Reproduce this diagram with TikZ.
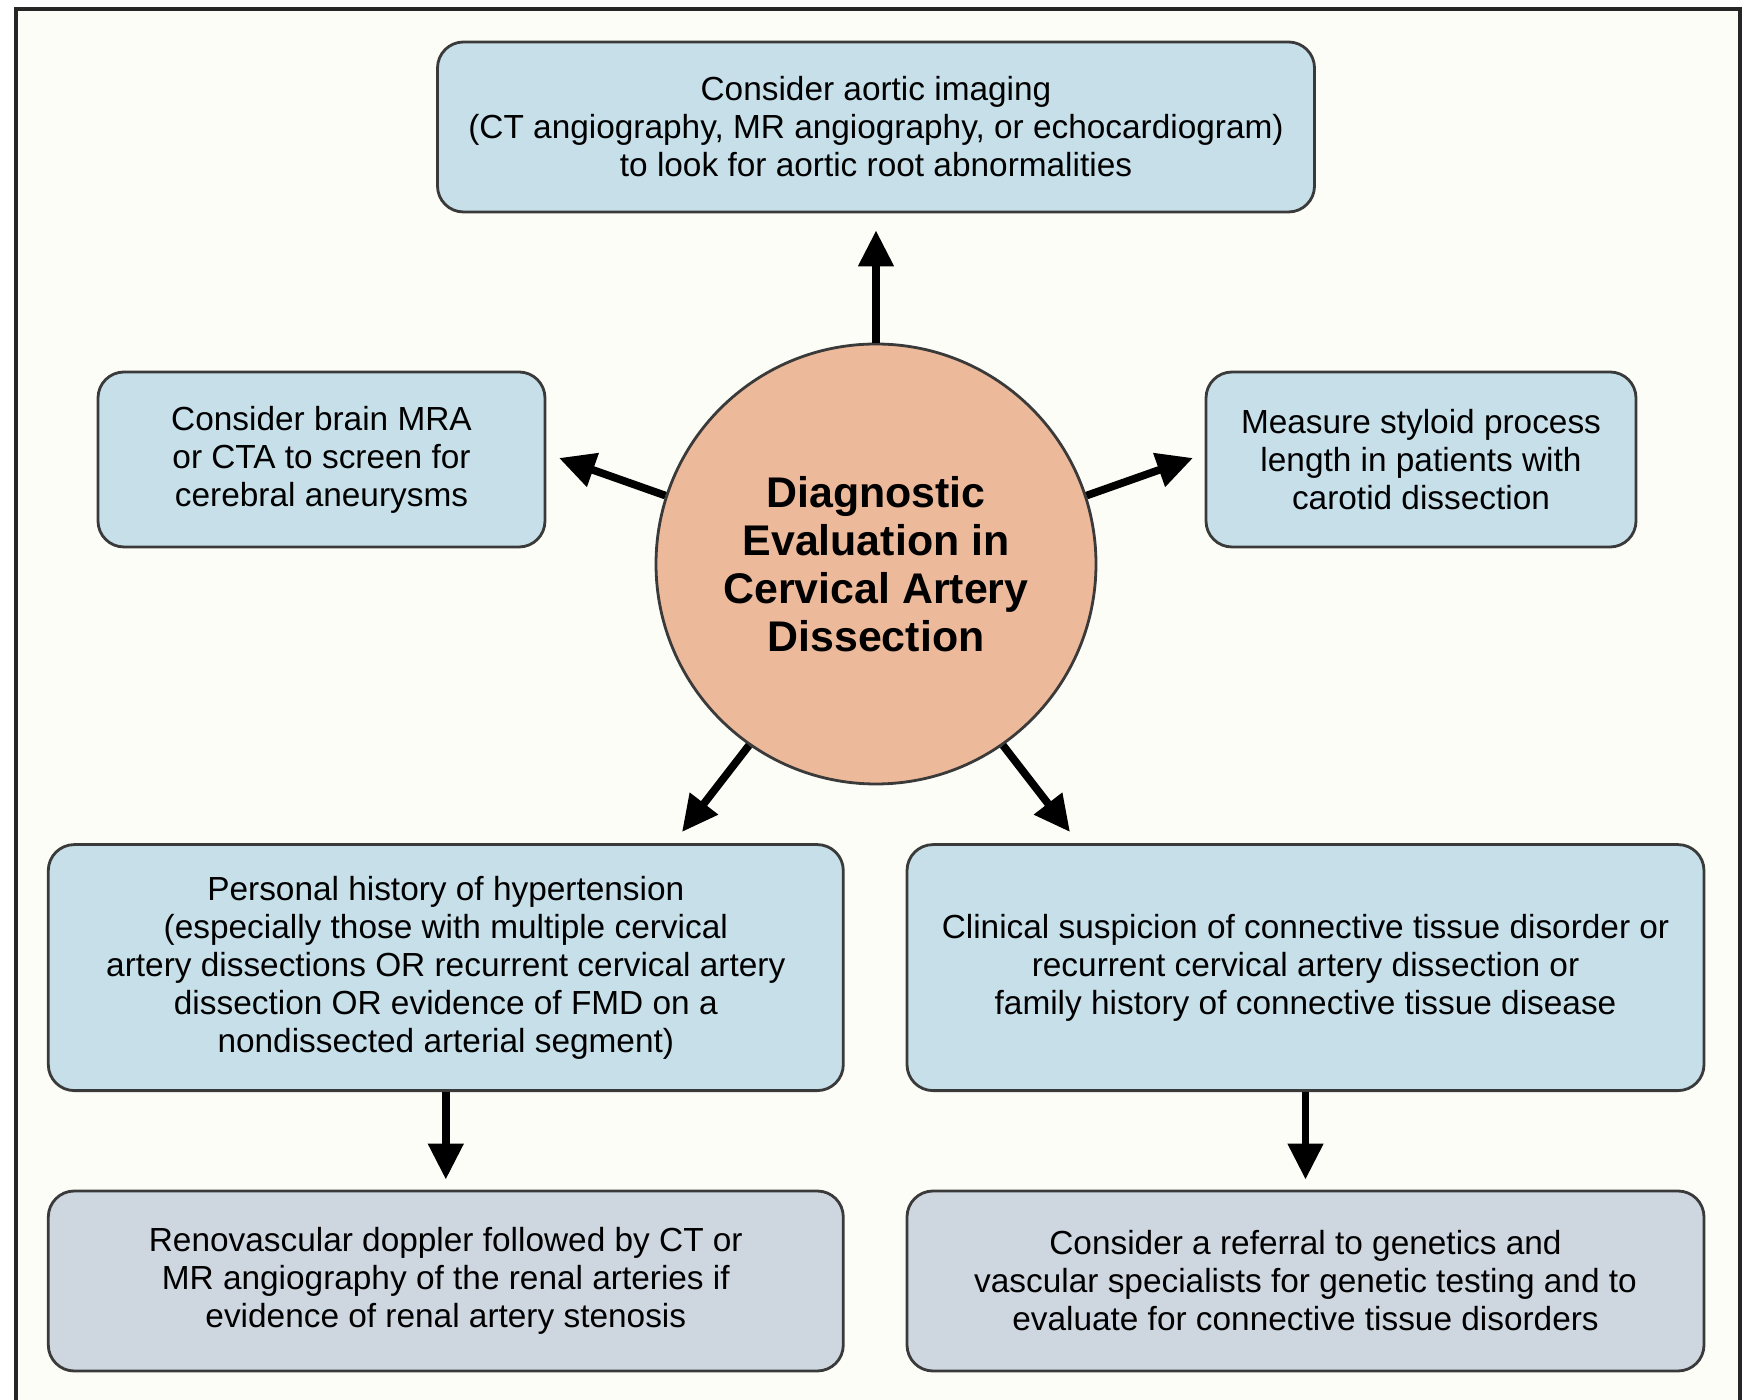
\documentclass[tikz,border=0pt]{standalone}
\usepackage{fontspec}
\setmainfont{Liberation Sans}
\usetikzlibrary{arrows.meta}

\definecolor{pagecol}{HTML}{FDFDF8}
\definecolor{boxline}{HTML}{3A3A3A}
\definecolor{infoblue}{HTML}{C6DFE9}
\definecolor{actiongray}{HTML}{CED6E0}
\definecolor{hubsalmon}{HTML}{EDB99B}

\begin{document}
\begin{tikzpicture}[>={Triangle[length=3.6mm,width=3.4mm]},
    every node/.style={draw=boxline, line width=0.8pt, align=center, inner sep=0pt,
      font=\fontsize{9.5}{10.8}\selectfont},
    infobox/.style={rounded corners=2.6mm, fill=infoblue},
    actionbox/.style={rounded corners=2.6mm, fill=actiongray},
    arrow/.style={->, line width=2.2pt}]
    \useasboundingbox (0,0) rectangle (17.52,14);
    \fill[pagecol] (0.16,0) rectangle (17.40,13.91);
    \draw[line width=1.3pt, black!85] (0.16,0) -- (0.16,13.91) -- (17.40,13.91) -- (17.40,0);

    % Nodes
    \node[infobox, minimum width=8.77cm, minimum height=1.70cm] at (8.76, 12.73) (aortic)
      {Consider aortic imaging\\(CT angiography, MR angiography, or echocardiogram)\\to look for aortic root abnormalities};
    \node[circle, fill=hubsalmon, minimum size=4.40cm,
      font=\bfseries\fontsize{12.2}{13.6}\selectfont] at (8.76, 8.36) (hub)
      {Diagnostic\\Evaluation in\\Cervical Artery\\Dissection};
    \node[infobox, minimum width=4.47cm, minimum height=1.75cm] at (3.215, 9.405) (brain)
      {Consider brain MRA\\or CTA to screen for\\cerebral aneurysms};
    \node[infobox, minimum width=4.30cm, minimum height=1.75cm] at (14.21, 9.405) (styloid)
      {Measure styloid process\\length in patients with\\carotid dissection};
    \node[infobox, minimum width=7.95cm, minimum height=2.46cm] at (4.458, 4.324) (htn)
      {Personal history of hypertension\\(especially those with multiple cervical\\artery dissections OR recurrent cervical artery\\dissection OR evidence of FMD on a\\nondissected arterial segment)};
    \node[infobox, minimum width=7.97cm, minimum height=2.46cm] at (13.055, 4.324) (ctd)
      {Clinical suspicion of connective tissue disorder or\\recurrent cervical artery dissection or\\family history of connective tissue disease};
    \node[actionbox, minimum width=7.95cm, minimum height=1.80cm] at (4.458, 1.19) (renal)
      {Renovascular doppler followed by CT or\\MR angiography of the renal arteries if\\evidence of renal artery stenosis};
    \node[actionbox, minimum width=7.97cm, minimum height=1.80cm] at (13.055, 1.19) (genetics)
      {Consider a referral to genetics and\\vascular specialists for genetic testing and to\\evaluate for connective tissue disorders};

    \coordinate (brainend) at (5.59, 9.42);
    \coordinate (styloidend) at (11.93, 9.42);
    \coordinate (htnend) at (6.82, 5.68);
    \coordinate (ctdend) at (10.70, 5.68);

    % Edges
    \draw[arrow, shorten >=1.7mm] (hub) -- (aortic);
    \draw[arrow] (hub.162) -- (brainend);
    \draw[arrow] (hub.18) -- (styloidend);
    \draw[arrow] (hub.235) -- (htnend);
    \draw[arrow] (hub.305) -- (ctdend);
    \draw[arrow, shorten >=1mm] (htn) -- (renal);
    \draw[arrow, shorten >=1mm] (ctd) -- (genetics);
\end{tikzpicture}
\end{document}
